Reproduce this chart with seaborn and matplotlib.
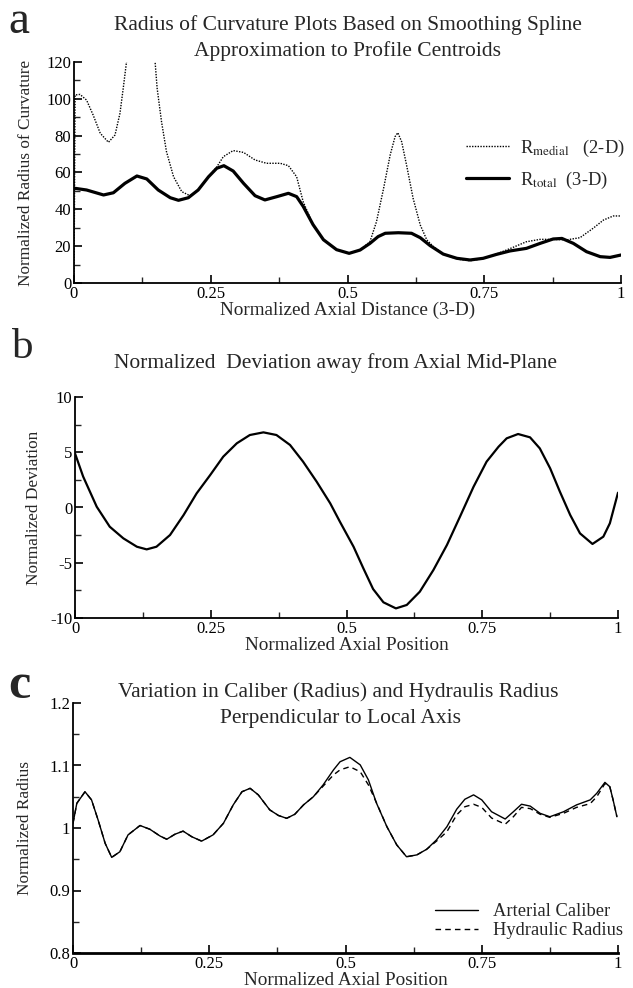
import numpy as np
import pandas as pd
import matplotlib
matplotlib.use("Agg")
import matplotlib.pyplot as plt
import seaborn as sns
from matplotlib.ticker import MultipleLocator, FixedLocator, FixedFormatter

# ---------------- data ----------------
# Panel a: radius of curvature (3-D total)
a_total_x = [0.002, 0.023, 0.054, 0.072, 0.093, 0.115, 0.133, 0.154, 0.176, 0.191, 0.209,
             0.227, 0.246, 0.261, 0.274, 0.291, 0.31, 0.331, 0.349, 0.371, 0.392, 0.407,
             0.419, 0.437, 0.456, 0.48, 0.503, 0.523, 0.541, 0.556, 0.569, 0.593, 0.617,
             0.633, 0.651, 0.675, 0.70, 0.724, 0.748, 0.772, 0.797, 0.827, 0.852, 0.876,
             0.892, 0.913, 0.937, 0.962, 0.98, 1.0]
a_total_y = [51.4, 50.5, 47.8, 49.0, 54.1, 58.1, 56.5, 50.5, 46.3, 44.9, 46.3,
             50.5, 57.7, 62.3, 63.7, 60.8, 54.1, 47.4, 45.1, 46.9, 48.7, 46.9,
             41.6, 31.7, 23.5, 18.1, 16.1, 17.9, 21.5, 25.2, 27.0, 27.3, 27.0,
             24.6, 20.3, 15.7, 13.4, 12.5, 13.4, 15.5, 17.4, 18.8, 21.5, 23.9,
             24.2, 21.5, 17.0, 14.3, 13.9, 15.2]

# Panel a: radius of curvature (2-D medial)
a_medial_x = [0.0, 0.002, 0.011, 0.023, 0.035, 0.048, 0.063, 0.075, 0.084, 0.09, 0.096,
              0.10, 0.144, 0.148, 0.152, 0.16, 0.169, 0.182, 0.197, 0.212, 0.227, 0.246,
              0.261, 0.273, 0.291, 0.31, 0.331, 0.352, 0.377, 0.392, 0.407, 0.419, 0.437,
              0.456, 0.48, 0.503, 0.523, 0.541, 0.553, 0.566, 0.578, 0.587, 0.592, 0.599,
              0.608, 0.62, 0.633, 0.645, 0.657, 0.675, 0.70, 0.724, 0.748, 0.772, 0.803,
              0.827, 0.852, 0.876, 0.90, 0.925, 0.949, 0.968, 0.986, 1.0]
a_medial_y = [0.0, 102.1, 102.4, 99.3, 91.2, 81.3, 76.4, 80.4, 92.1, 105.7, 120.1,
              135.0, 135.0, 121.0, 105.7, 87.6, 71.4, 57.7, 49.6, 47.4, 50.5, 57.7,
              63.0, 68.6, 71.9, 70.9, 66.8, 65.0, 65.0, 63.7, 57.7, 44.1, 31.7,
              23.5, 18.1, 16.1, 17.9, 22.4, 33.3, 51.4, 69.5, 79.5, 81.6, 76.7,
              64.0, 45.9, 31.5, 23.4, 19.8, 15.7, 13.0, 12.1, 13.2, 15.7, 19.4,
              22.4, 23.7, 23.7, 23.4, 24.6, 29.7, 34.2, 36.4, 36.4]

# Panel b: normalized deviation
b_x = [0.0, 0.015, 0.04, 0.064, 0.089, 0.114, 0.132, 0.15, 0.175, 0.2, 0.224, 0.249, 0.273,
       0.298, 0.322, 0.347, 0.371, 0.396, 0.42, 0.445, 0.47, 0.488, 0.513, 0.531, 0.549,
       0.568, 0.591, 0.611, 0.635, 0.66, 0.685, 0.709, 0.734, 0.758, 0.78, 0.795, 0.816,
       0.838, 0.856, 0.875, 0.893, 0.912, 0.93, 0.953, 0.973, 0.985, 1.0]
b_y = [4.9, 2.8, 0.07, -1.74, -2.79, -3.55, -3.79, -3.55, -2.49, -0.68, 1.28, 2.94, 4.6,
       5.81, 6.56, 6.8, 6.56, 5.66, 4.15, 2.34, 0.38, -1.3, -3.55, -5.5, -7.38,
       -8.58, -9.13, -8.82, -7.62, -5.66, -3.39, -0.83, 1.88, 4.15, 5.5, 6.26, 6.65,
       6.35, 5.35, 3.55, 1.43, -0.68, -2.34, -3.3, -2.64, -1.43, 1.34]

# Panel c: arterial caliber
c_cal_x = [0.0, 0.007, 0.022, 0.034, 0.046, 0.059, 0.071, 0.086, 0.101, 0.123, 0.141, 0.16,
           0.172, 0.187, 0.202, 0.218, 0.236, 0.257, 0.276, 0.294, 0.31, 0.325, 0.34, 0.361,
           0.377, 0.392, 0.407, 0.423, 0.441, 0.459, 0.478, 0.49, 0.508, 0.527, 0.542, 0.557,
           0.576, 0.594, 0.612, 0.631, 0.649, 0.667, 0.686, 0.704, 0.719, 0.735, 0.75, 0.768,
           0.793, 0.808, 0.823, 0.839, 0.857, 0.875, 0.90, 0.924, 0.949, 0.961, 0.976, 0.985,
           0.991, 0.998]
c_cal_y = [1.0075, 1.0395, 1.058, 1.045, 1.013, 0.9755, 0.953, 0.962, 0.989, 1.004, 0.998, 0.987,
           0.982, 0.990, 0.995, 0.986, 0.979, 0.989, 1.0075, 1.037, 1.058, 1.0635, 1.053, 1.029,
           1.020, 1.0155, 1.022, 1.037, 1.050, 1.069, 1.093, 1.106, 1.113, 1.101, 1.077, 1.0395,
           1.002, 0.973, 0.954, 0.957, 0.966, 0.981, 1.002, 1.030, 1.046, 1.053, 1.045, 1.026,
           1.0144, 1.026, 1.038, 1.035, 1.0235, 1.018, 1.026, 1.037, 1.045, 1.0555, 1.073, 1.066,
           1.045, 1.018]

# Panel c: hydraulic radius
c_hyd_x = [0.0, 0.007, 0.022, 0.034, 0.046, 0.059, 0.071, 0.086, 0.101, 0.123, 0.141, 0.16,
           0.172, 0.187, 0.202, 0.218, 0.236, 0.257, 0.276, 0.294, 0.31, 0.325, 0.34, 0.361,
           0.377, 0.392, 0.407, 0.423, 0.441, 0.459, 0.478, 0.49, 0.508, 0.527, 0.542, 0.557,
           0.576, 0.594, 0.612, 0.631, 0.649, 0.667, 0.686, 0.704, 0.719, 0.735, 0.75, 0.768,
           0.793, 0.808, 0.823, 0.839, 0.857, 0.875, 0.90, 0.924, 0.949, 0.961, 0.976, 0.985,
           0.991, 0.998]
c_hyd_y = [1.0075, 1.0395, 1.058, 1.045, 1.013, 0.9755, 0.953, 0.962, 0.989, 1.004, 0.998, 0.987,
           0.982, 0.990, 0.995, 0.986, 0.979, 0.989, 1.0075, 1.037, 1.058, 1.0635, 1.053, 1.029,
           1.020, 1.0155, 1.022, 1.037, 1.050, 1.067, 1.085, 1.093, 1.098, 1.090, 1.069, 1.040,
           1.002, 0.973, 0.954, 0.957, 0.966, 0.979, 0.994, 1.021, 1.034, 1.038, 1.033, 1.016,
           1.006, 1.018, 1.033, 1.031, 1.022, 1.017, 1.0235, 1.033, 1.039, 1.050, 1.071, 1.066,
           1.045, 1.018]

xticks = [0, 0.25, 0.5, 0.75, 1]
xtick_labels = ["0", "0.25", "0.5", "0.75", "1"]

# ---------------- style ----------------
sns.set_style("ticks")
plt.rcParams['font.family'] = ['Liberation Serif', 'DejaVu Serif']
plt.rcParams['mathtext.fontset'] = 'stix'
plt.rcParams['axes.unicode_minus'] = False
plt.rcParams['xtick.direction'] = 'in'
plt.rcParams['ytick.direction'] = 'in'

W, H = 633, 988
fig = plt.figure(figsize=(W / 100, H / 100), dpi=100)


def axes_px(l, t, r, b):
    return fig.add_axes([l / W, 1 - b / H, (r - l) / W, (b - t) / H])


def fx(px):
    return px / W


def fy(py):
    return 1 - py / H


def style_axes(ax, yminor):
    for s in ['top', 'right']:
        ax.spines[s].set_visible(False)
    for s in ['left', 'bottom']:
        ax.spines[s].set_linewidth(1.3)
        ax.spines[s].set_color('black')
    ax.set_xlim(0, 1)
    ax.xaxis.set_major_locator(FixedLocator(xticks))
    ax.xaxis.set_major_formatter(FixedFormatter(xtick_labels))
    ax.xaxis.set_minor_locator(MultipleLocator(0.125))
    ax.yaxis.set_minor_locator(MultipleLocator(yminor))
    ax.tick_params(which='major', length=6, width=1.2, labelsize=12, pad=2, colors='black')
    ax.tick_params(which='minor', length=4, width=1.0)
    ax.grid(False)


TITLE_FS = 15.5

# ---------------- panel a ----------------
axa = axes_px(74, 62, 621, 283)
df_med = pd.DataFrame({'x': a_medial_x, 'y': a_medial_y})
df_tot = pd.DataFrame({'x': a_total_x, 'y': a_total_y})
sns.lineplot(data=df_med, x='x', y='y', ax=axa, sort=False, color='black',
             lw=1.0, linestyle=(0, (1, 1)), label=r'R$_{\mathrm{medial}}$   (2-D)')
sns.lineplot(data=df_tot, x='x', y='y', ax=axa, sort=False, color='black',
             lw=2.3, label=r'R$_{\mathrm{total}}$  (3-D)')
axa.set_ylim(0, 120)
axa.yaxis.set_major_locator(MultipleLocator(20))
style_axes(axa, 10)
axa.set_xlabel('Normalized Axial Distance (3-D)', fontsize=13.8, labelpad=0)
axa.set_ylabel('Normalized Radius of Curvature', fontsize=12.4, labelpad=9)
axa.legend(loc='upper left', bbox_to_anchor=(0.70, 0.70), frameon=False, fontsize=13.3,
           handlelength=2.3, handletextpad=0.6, labelspacing=0.6, borderpad=0)
fig.text(fx(348), fy(25), 'Radius of Curvature Plots Based on Smoothing Spline',
         ha='center', va='center', fontsize=TITLE_FS)
fig.text(fx(348), fy(51), 'Approximation to Profile Centroids',
         ha='center', va='center', fontsize=TITLE_FS)
fig.text(fx(8), fy(33), 'a', ha='left', va='baseline', fontsize=34)

# ---------------- panel b ----------------
axb = axes_px(75, 397, 618, 618)
df_b = pd.DataFrame({'x': b_x, 'y': b_y})
sns.lineplot(data=df_b, x='x', y='y', ax=axb, sort=False, color='black', lw=1.6)
axb.set_ylim(-10, 10)
axb.yaxis.set_major_locator(MultipleLocator(5))
style_axes(axb, 2.5)
axb.set_xlabel('Normalized Axial Position', fontsize=13.8, labelpad=0)
axb.set_ylabel('Normalized Deviation', fontsize=12.4, labelpad=6)
fig.text(fx(335), fy(363), 'Normalized  Deviation away from Axial Mid-Plane',
         ha='center', va='center', fontsize=TITLE_FS)
fig.text(fx(12), fy(358), 'b', ha='left', va='baseline', fontsize=31)

# ---------------- panel c ----------------
axc = axes_px(73, 703, 618, 953)
df_c = pd.concat([
    pd.DataFrame({'x': c_cal_x, 'y': c_cal_y, 'series': 'Arterial Caliber'}),
    pd.DataFrame({'x': c_hyd_x, 'y': c_hyd_y, 'series': 'Hydraulic Radius'}),
], ignore_index=True)
sns.lineplot(data=df_c, x='x', y='y', hue='series', style='series', ax=axc, sort=False,
             palette=['black', 'black'], dashes=[(None, None), (4, 3)], lw=1.0)
axc.set_ylim(0.8, 1.2)
axc.yaxis.set_major_locator(FixedLocator([0.8, 0.9, 1.0, 1.1, 1.2]))
axc.yaxis.set_major_formatter(FixedFormatter(['0.8', '0.9', '1', '1.1', '1.2']))
style_axes(axc, 0.05)
axc.spines['bottom'].set_linewidth(2.0)
axc.set_xlabel('Normalized Axial Position', fontsize=13.8, labelpad=0)
axc.set_ylabel('Normalized Radius', fontsize=12.4, labelpad=12)
axc.legend(loc='upper left', bbox_to_anchor=(0.648, 0.235), frameon=False, fontsize=13.3,
           handlelength=2.3, handletextpad=0.8, labelspacing=0.1, borderpad=0, title=None)
fig.text(fx(338), fy(692), 'Variation in Caliber (Radius) and Hydraulis Radius',
         ha='center', va='center', fontsize=TITLE_FS)
fig.text(fx(340), fy(719), 'Perpendicular to Local Axis',
         ha='center', va='center', fontsize=TITLE_FS)
fig.text(fx(8), fy(698), 'c', ha='left', va='baseline', fontsize=36, fontweight='bold')

fig.savefig('out.png', dpi=100)
